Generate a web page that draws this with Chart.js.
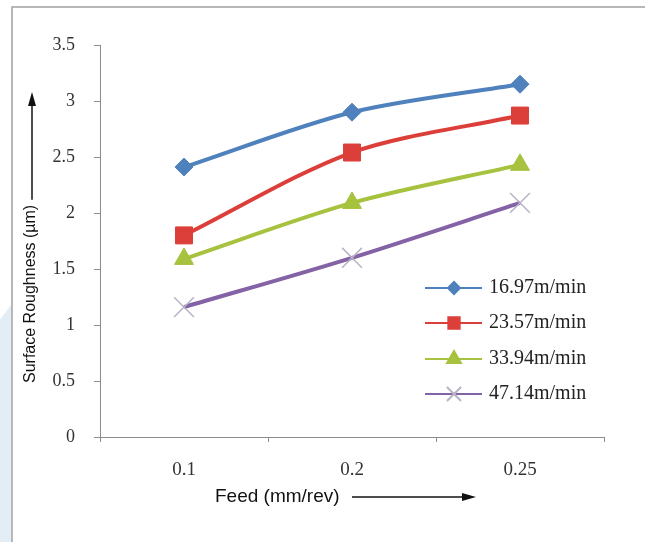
<!DOCTYPE html>
<html>
<head>
<meta charset="utf-8">
<script src="https://cdn.jsdelivr.net/npm/chart.js@4/dist/chart.umd.min.js"></script>
<style>
  html, body { margin: 0; padding: 0; background: #fff; }
  #wrap { width: 645px; height: 542px; }
</style>
</head>
<body>
<div id="wrap"><canvas id="roughChart" width="645" height="542"></canvas></div>
<script>
// feed values on the x axis
const feedLabels = ['0.1', '0.2', '0.25'];
// cutting speeds (legend)
const speedNames = ['16.97m/min', '23.57m/min', '33.94m/min', '47.14m/min'];
// surface roughness (um) per speed
const ra1697 = [2.41, 2.90, 3.15];
const ra2357 = [1.80, 2.54, 2.87];
const ra3394 = [1.59, 2.09, 2.43];
const ra4714 = [1.16, 1.60, 2.09];
const yMin = 0, yMax = 3.5, yStep = 0.5;

const serif = "'Liberation Serif', 'Times New Roman', serif";
const sans = "'Liberation Sans', Arial, sans-serif";

// frame, axis titles with arrows, legend inside plot
const decorations = {
    id: 'decorations',
    afterDraw(chart) {
        const ctx = chart.ctx;
        ctx.save();

        // faint watermark on the left edge
        ctx.fillStyle = 'rgba(200, 220, 236, 0.5)';
        ctx.beginPath();
        ctx.moveTo(0, 320); ctx.lineTo(11, 305); ctx.lineTo(11, 542); ctx.lineTo(0, 542);
        ctx.closePath();
        ctx.fill();

        // outer frame
        ctx.strokeStyle = '#a0a0a0';
        ctx.lineWidth = 1.5;
        ctx.strokeRect(12, 7, 700, 600);

        // y title rotated + arrow
        ctx.fillStyle = '#111';
        ctx.strokeStyle = '#111';
        ctx.font = '16px ' + sans;
        ctx.save();
        ctx.translate(31, 383);
        ctx.rotate(-Math.PI / 2);
        ctx.textAlign = 'left';
        ctx.textBaseline = 'middle';
        const yt = 'Surface Roughness (µm)';
        ctx.fillText(yt, 0, 0);
        const w = ctx.measureText(yt).width;
        ctx.restore();
        const ax = 32;
        ctx.lineWidth = 1.5;
        ctx.beginPath();
        ctx.moveTo(ax, 383 - w - 5);
        ctx.lineTo(ax, 104);
        ctx.stroke();
        ctx.beginPath();
        ctx.moveTo(ax, 92); ctx.lineTo(ax - 4, 106); ctx.lineTo(ax + 4, 106);
        ctx.closePath();
        ctx.fill();

        // x title + arrow
        ctx.font = '19px ' + sans;
        ctx.textAlign = 'left';
        ctx.textBaseline = 'middle';
        ctx.fillText('Feed (mm/rev)', 215, 497);
        ctx.beginPath();
        ctx.moveTo(352, 497);
        ctx.lineTo(463, 497);
        ctx.stroke();
        ctx.beginPath();
        ctx.moveTo(476, 497); ctx.lineTo(462, 493); ctx.lineTo(462, 501);
        ctx.closePath();
        ctx.fill();

        // legend
        const rowsY = [288, 323, 359, 394];
        const legendSizes = [6, 8, 8, 10];
        chart.data.datasets.forEach((ds, i) => {
            const y = rowsY[i];
            ctx.strokeStyle = ds.borderColor;
            ctx.lineWidth = 2;
            ctx.beginPath();
            ctx.moveTo(425, y);
            ctx.lineTo(482, y);
            ctx.stroke();
            ctx.fillStyle = ds.pointBackgroundColor;
            ctx.strokeStyle = ds.pointBorderColor;
            Chart.helpers.drawPoint(ctx, {
                pointStyle: ds.pointStyle,
                radius: legendSizes[i],
                rotation: 0,
                borderWidth: ds.pointBorderWidth
            }, 454, y);
            ctx.fillStyle = '#222';
            ctx.font = '20px ' + serif;
            ctx.textAlign = 'left';
            ctx.textBaseline = 'middle';
            ctx.fillText(ds.label, 489, y);
        });
        ctx.restore();
    }
};

const makeSet = (label, data, color, style, radius, pointColor, pointBorder, pbw) => ({
    label: label,
    data: data,
    borderColor: color,
    backgroundColor: color,
    borderWidth: 4,
    tension: 0.3,
    pointStyle: style,
    pointRadius: radius,
    pointHoverRadius: radius,
    pointBackgroundColor: pointColor,
    pointBorderColor: pointBorder,
    pointBorderWidth: pbw
});

new Chart(document.getElementById('roughChart').getContext('2d'), {
    type: 'line',
    data: {
        labels: feedLabels,
        datasets: [
            makeSet(speedNames[0], ra1697, '#4f81bd', 'rectRot', 9, '#4f81bd', '#4f81bd', 1),
            makeSet(speedNames[1], ra2357, '#dc3f3a', 'rect', 12, '#dc3f3a', '#dc3f3a', 1),
            makeSet(speedNames[2], ra3394, '#a6c23e', 'triangle', 11, '#a6c23e', '#a6c23e', 1),
            makeSet(speedNames[3], ra4714, '#8363a6', 'crossRot', 14, 'rgba(0,0,0,0)', '#b8b2c6', 1.5)
        ]
    },
    options: {
        responsive: false,
        animation: false,
        events: [],
        layout: { padding: { top: 45, right: 41, left: 0, bottom: 0 } },
        plugins: {
            legend: { display: false },
            tooltip: { enabled: false }
        },
        scales: {
            x: {
                offset: true,
                afterFit: (s) => { s.height = 105; },
                grid: {
                    offset: true,
                    drawOnChartArea: false,
                    tickLength: 5,
                    color: '#8c8c8c'
                },
                border: { color: '#8c8c8c', width: 1 },
                ticks: {
                    color: '#333',
                    padding: 17,
                    font: { family: serif, size: 19 }
                }
            },
            y: {
                min: yMin,
                max: yMax,
                afterFit: (s) => { s.width = 100; },
                grid: {
                    drawOnChartArea: false,
                    tickLength: 6,
                    color: '#8c8c8c'
                },
                border: { color: '#8c8c8c', width: 1 },
                ticks: {
                    stepSize: yStep,
                    color: '#333',
                    padding: 19,
                    font: { family: serif, size: 18 },
                    callback: (v) => String(v)
                }
            }
        }
    },
    plugins: [decorations]
});
</script>
</body>
</html>
